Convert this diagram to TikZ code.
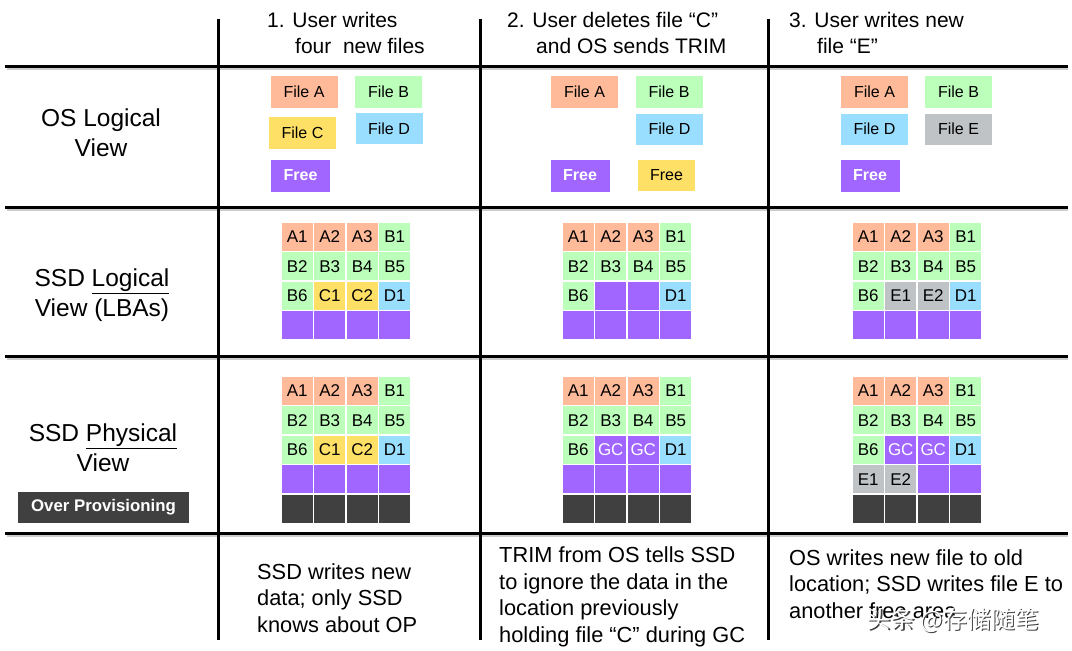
\documentclass[tikz,border=0pt]{standalone}
\usepackage{fontspec}
\setmainfont{Liberation Sans}
\newfontfamily\cjk{Noto Sans CJK SC}
\usetikzlibrary{positioning}

\definecolor{filea}{HTML}{FFBB99}
\definecolor{fileb}{HTML}{BBFFBB}
\definecolor{filec}{HTML}{FFE066}
\definecolor{filed}{HTML}{99DDFF}
\definecolor{filee}{HTML}{BFC3C6}
\definecolor{freeblk}{HTML}{A066FF}
\definecolor{opblk}{HTML}{404040}

% one SSD block map: name, left x, top y, cells (label/style)
\newcommand\ssdgrid[4]{%
  \foreach \lab/\sty [count=\i from 0] in {#4} {
    \pgfmathtruncatemacro\row{\i/4}
    \pgfmathtruncatemacro\colm{mod(\i,4)}
    \node[cell,\sty] (#1-\i) at ({#2+16.25+32.5*\colm},{#3+14.75+29.5*\row}) {\lab};
  }}

\begin{document}
\begin{tikzpicture}[x=1pt,y=-1pt,
    gridline/.style={line width=3pt,black},
    gridshadow/.style={line width=2pt,black!20},
    head/.style={anchor=west,inner sep=0pt,font=\fontsize{21}{24}\selectfont},
    rowlabel/.style={align=center,inner sep=0pt,font=\fontsize{24.5}{30}\selectfont},
    note/.style={anchor=west,align=left,inner sep=0pt,font=\fontsize{21.8}{26.5}\selectfont},
    filebox/.style={minimum width=67pt,minimum height=32pt,inner sep=0pt,font=\fontsize{16}{18}\selectfont},
    freebox/.style={filebox,minimum width=59pt,fill=freeblk,text=white,font=\fontsize{16}{18}\selectfont\bfseries},
    cell/.style={minimum width=32.5pt,minimum height=29.5pt,inner sep=0pt,draw=white,line width=1.5pt,font=\fontsize{17}{19}\selectfont},
    fa/.style={fill=filea}, fb/.style={fill=fileb}, fc/.style={fill=filec},
    fd/.style={fill=filed}, fe/.style={fill=filee}, fr/.style={fill=freeblk},
    gc/.style={fill=freeblk,text=white}, op/.style={fill=opblk}]
  \useasboundingbox (0,0) rectangle (1072,651);

  % table lines
  \foreach \y in {66,207,356,533} {
    \draw[gridshadow] (7,\y+3) -- (1068,\y+3);
    \draw[gridline] (5,\y) -- (1068,\y);
  }
  \foreach \x in {218,480,768}
    \draw[gridline] (\x,19) -- (\x,640);

  % column heads
  \node[head] (h1a) at (267,20) {1. User writes};
  \node[head] (h1b) at (295,46) {four~ new files};
  \node[head] (h2a) at (507,20) {2. User deletes file “C”};
  \node[head] (h2b) at (536,46) {and OS sends TRIM};
  \node[head] (h3a) at (789,20) {3. User writes new};
  \node[head] (h3b) at (817,46) {file “E”};

  % row heads
  \node[rowlabel] (osview) at (101,133) {OS Logical\\View};
  \node[rowlabel] (lbaview) at (102,295) {SSD \underline{Logical}\\View (LBAs)};
  \node[rowlabel] (physview) at (103,448) {SSD \underline{Physical}\\View};
  \node[minimum width=171pt,minimum height=31pt,inner sep=0pt,fill=opblk,text=white,
        font=\fontsize{16.8}{18}\selectfont\bfseries] (opbox) at (103.5,507.5) {Over Provisioning};

  % OS logical view
  \node[filebox,fill=filea] (a1) at (304,91.5) {File A};
  \node[filebox,fill=fileb] (b1) at (388.5,91.5) {File B};
  \node[filebox,fill=filec] (c1) at (302.5,132.5) {File C};
  \node[filebox,fill=filed,minimum height=31pt] (d1) at (389,128.5) {File D};
  \node[freebox] (free1) at (300.5,175.5) {Free};

  \node[filebox,fill=filea] (a2) at (584.5,91.5) {File A};
  \node[filebox,fill=fileb] (b2) at (669,91.5) {File B};
  \node[filebox,fill=filed,minimum height=31pt] (d2) at (669.5,129) {File D};
  \node[freebox] (free2) at (580,175.5) {Free};
  \node[filebox,fill=filec,minimum width=57pt,minimum height=31pt] (freec2) at (666.5,175.5) {Free};

  \node[filebox,fill=filea] (a3) at (874.5,91.5) {File A};
  \node[filebox,fill=fileb] (b3) at (958.5,91.5) {File B};
  \node[filebox,fill=filed,minimum height=31pt] (d3) at (874.5,129) {File D};
  \node[filebox,fill=filee,minimum height=31pt] (e3) at (958.5,129) {File E};
  \node[freebox] (free3) at (870,175.5) {Free};

  % SSD logical view
  \ssdgrid{lba1}{281}{222}{A1/fa,A2/fa,A3/fa,B1/fb,B2/fb,B3/fb,B4/fb,B5/fb,
    B6/fb,C1/fc,C2/fc,D1/fd,/fr,/fr,/fr,/fr}
  \ssdgrid{lba2}{562}{222}{A1/fa,A2/fa,A3/fa,B1/fb,B2/fb,B3/fb,B4/fb,B5/fb,
    B6/fb,/fr,/fr,D1/fd,/fr,/fr,/fr,/fr}
  \ssdgrid{lba3}{852}{222}{A1/fa,A2/fa,A3/fa,B1/fb,B2/fb,B3/fb,B4/fb,B5/fb,
    B6/fb,E1/fe,E2/fe,D1/fd,/fr,/fr,/fr,/fr}

  % SSD physical view
  \ssdgrid{phy1}{281}{376}{A1/fa,A2/fa,A3/fa,B1/fb,B2/fb,B3/fb,B4/fb,B5/fb,
    B6/fb,C1/fc,C2/fc,D1/fd,/fr,/fr,/fr,/fr,/op,/op,/op,/op}
  \ssdgrid{phy2}{562}{376}{A1/fa,A2/fa,A3/fa,B1/fb,B2/fb,B3/fb,B4/fb,B5/fb,
    B6/fb,GC/gc,GC/gc,D1/fd,/fr,/fr,/fr,/fr,/op,/op,/op,/op}
  \ssdgrid{phy3}{852}{376}{A1/fa,A2/fa,A3/fa,B1/fb,B2/fb,B3/fb,B4/fb,B5/fb,
    B6/fb,GC/gc,GC/gc,D1/fd,E1/fe,E2/fe,/fr,/fr,/op,/op,/op,/op}

  % notes
  \node[note] (note1) at (257,598) {SSD writes new\\data; only SSD\\knows about OP};
  \node[note] (note2) at (499,597) {TRIM from OS tells SSD\\to ignore the data in the\\location previously\\holding file “C” during GC};
  \node[note] (note3) at (789,584) {OS writes new file to old\\location; SSD writes file E to\\another free area};

  % watermark
  \node[font=\cjk\fontsize{24}{26}\selectfont,text=black!75,inner sep=0pt] at (954.5,621.5) {头条 @存储随笔};
  \node[font=\cjk\fontsize{24}{26}\selectfont,text=white,inner sep=0pt] (mark) at (953,620) {头条 @存储随笔};
\end{tikzpicture}
\end{document}
